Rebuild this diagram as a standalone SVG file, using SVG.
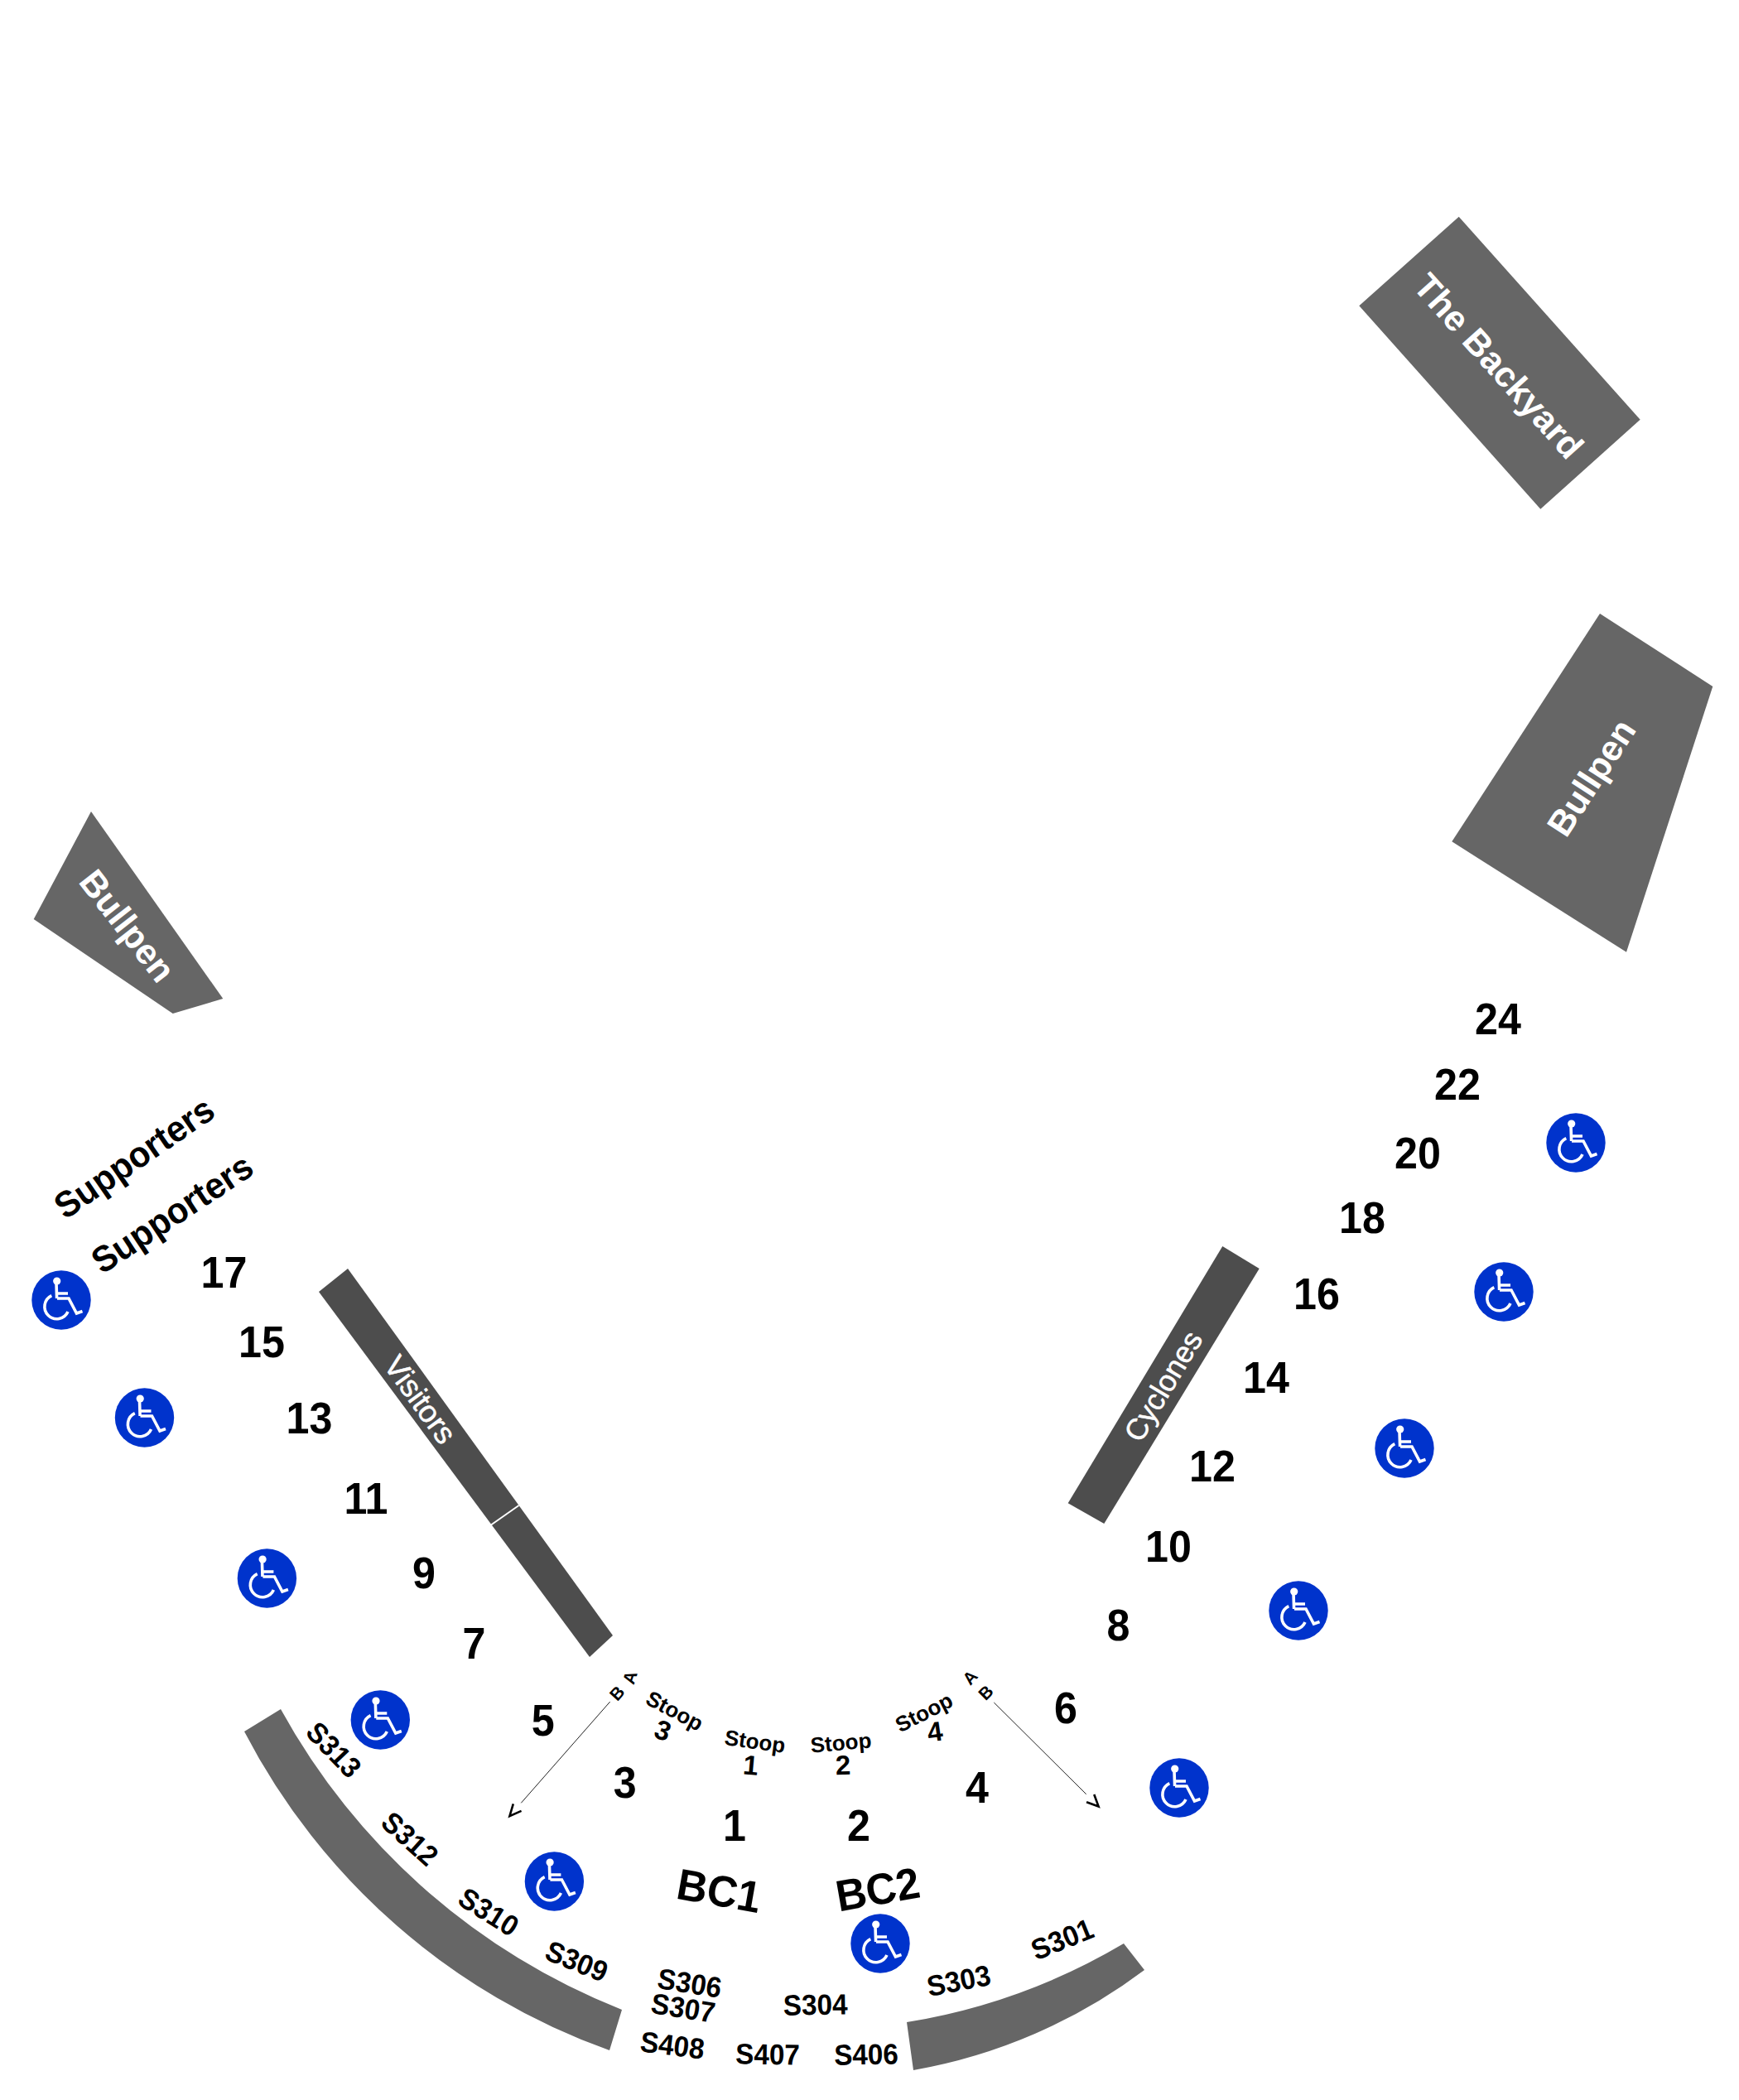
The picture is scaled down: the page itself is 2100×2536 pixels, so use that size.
<svg xmlns="http://www.w3.org/2000/svg" width="2100" height="2536" viewBox="0 0 2100 2536">
<style>
text{font-family:"Liberation Sans",Arial,sans-serif;text-anchor:middle}
.zone{fill:#666666}
.zone2{fill:#4d4d4d}
.w{fill:#fff;font-weight:700;font-size:43px}
.wr{fill:#fff;font-weight:400;font-size:37px;stroke:#fff;stroke-width:.5}
.n{font-weight:700;font-size:54px;fill:#000}
.s{font-weight:700;font-size:35px;fill:#000}
.bc{font-weight:700;font-size:53px;fill:#000}
.st{font-weight:700;font-size:26px;fill:#000}
.sd{font-weight:700;font-size:33px;fill:#000}
.ab{font-weight:700;font-size:21px;fill:#000}
.sup{font-weight:700;font-size:44px;fill:#000}
.ic{fill:none;stroke:#fff;stroke-width:3.6}
.conn{stroke:#222;stroke-width:1;fill:none}
</style>
<defs>
<marker id="chev" markerUnits="userSpaceOnUse" markerWidth="30" markerHeight="20" viewBox="0 -10 30 20" refX="0" refY="0" orient="auto">
<path d="M7,-6.5 L21,0 L7,6.5" fill="none" stroke="#000" stroke-width="2.6"/>
</marker>
<g id="wc">
<circle r="35.7" fill="#0033cc"/>
<circle cx="-5.3" cy="-23" r="4.6" fill="#fff"/>
<path class="ic" d="M-6,-21 L-5.4,-2 M-5,-8 H8 M-5,-2 H9 L18.5,16 L25.5,13.5"/>
<path class="ic" d="M-11.7,-5.3 A14.7 14.7 0 1 0 8,14"/>
</g>
</defs>
<rect width="2100" height="2536" fill="#fff"/>
<g id="connectors">
<line class="conn" x1="736.7" y1="2055" x2="629.3" y2="2177.3" marker-end="url(#chev)"/>
<line class="conn" x1="1200.3" y1="2056" x2="1311.7" y2="2166.7" marker-end="url(#chev)"/>
</g>
<g id="backyard"><polygon class="zone" points="1761.7,261.7 1980.7,506.7 1860.3,614.7 1641.3,369.3"/>
<text class="w" transform="translate(1810,442) rotate(48.2)" y="15">The Backyard</text></g>
<g id="bullpen-right"><polygon class="zone" points="1932,741 2068.3,829 1964,1149.7 1753.3,1016.3"/>
<text class="w" transform="translate(1921.5,939) rotate(-57)" y="15">Bullpen</text></g>
<g id="bullpen-left"><polygon class="zone" points="110,980 269.3,1206 208.7,1224 40.7,1110"/>
<text class="w" transform="translate(154,1118) rotate(52)" y="15">Bullpen</text></g>
<g id="visitors"><polygon class="zone2" points="420,1532 385,1560 712,2001 740,1975"/>
<line x1="626.5" y1="1818" x2="593" y2="1841.5" stroke="#fff" stroke-width="2"/>
<text class="wr" transform="translate(507.7,1690) rotate(54.2)" y="13">Visitors</text></g>
<g id="cyclones"><polygon class="zone2" points="1476.3,1505 1520.7,1532 1333.3,1840 1289.7,1815.3"/>
<text class="wr" transform="translate(1405,1674) rotate(-59)" y="12" style="font-size:36px">Cyclones</text></g>
<g id="arc-left"><path class="zone" d="M339,2064 A809 809 0 0 0 751,2427 L736,2476 A800 800 0 0 1 295,2091 Z"/></g>
<g id="arc-right"><path class="zone" d="M1095,2442 A750 750 0 0 0 1357,2347 L1382,2379 A650 650 0 0 1 1103,2500 Z"/></g>
<g id="supporters">
<text class="sup" transform="translate(162,1398) rotate(-34.5) scale(.95 1)" y="15">Supporters</text>
<text class="sup" transform="translate(208,1465.5) rotate(-33.5) scale(.95 1)" y="15">Supporters</text>
</g>
<g id="sections">
<text class="n" transform="translate(1809,1249) scale(.93 1)">24</text>
<text class="n" transform="translate(1760,1328) scale(.93 1)">22</text>
<text class="n" transform="translate(1712,1411) scale(.93 1)">20</text>
<text class="n" transform="translate(1645,1489) scale(.93 1)">18</text>
<text class="n" transform="translate(1590,1581) scale(.93 1)">16</text>
<text class="n" transform="translate(1529,1682) scale(.93 1)">14</text>
<text class="n" transform="translate(1464,1789) scale(.93 1)">12</text>
<text class="n" transform="translate(1411,1886) scale(.93 1)">10</text>
<text class="n" transform="translate(1350.5,1981) scale(.93 1)">8</text>
<text class="n" transform="translate(1287,2080.5) scale(.93 1)">6</text>
<text class="n" transform="translate(1180,2177) scale(.93 1)">4</text>
<text class="n" transform="translate(1037,2223) scale(.93 1)">2</text>
<text class="n" transform="translate(887,2223) scale(.93 1)">1</text>
<text class="n" transform="translate(754.6,2171) scale(.93 1)">3</text>
<text class="n" transform="translate(655.6,2096) scale(.93 1)">5</text>
<text class="n" transform="translate(572.4,2002.6) scale(.93 1)">7</text>
<text class="n" transform="translate(512,1918) scale(.93 1)">9</text>
<text class="n" transform="translate(442,1828) scale(.93 1)">11</text>
<text class="n" transform="translate(373.5,1731) scale(.93 1)">13</text>
<text class="n" transform="translate(316,1639) scale(.93 1)">15</text>
<text class="n" transform="translate(270.4,1555) scale(.93 1)">17</text>
</g>
<g id="suites">
<text class="s" transform="translate(403,2113) rotate(46) scale(.95 1)" y="12">S313</text>
<text class="s" transform="translate(495,2220.5) rotate(42) scale(.95 1)" y="12">S312</text>
<text class="s" transform="translate(590,2309) rotate(32) scale(.95 1)" y="12">S310</text>
<text class="s" transform="translate(696.4,2368.6) rotate(22) scale(.95 1)" y="12">S309</text>
<text class="s" transform="translate(832.7,2395) rotate(9) scale(.95 1)" y="12">S306</text>
<text class="s" transform="translate(825,2425) rotate(9) scale(.95 1)" y="12">S307</text>
<text class="s" transform="translate(812,2470) rotate(7) scale(.95 1)" y="12">S408</text>
<text class="s" transform="translate(927,2481) rotate(1) scale(.95 1)" y="12">S407</text>
<text class="s" transform="translate(1046,2481) rotate(-1) scale(.95 1)" y="12">S406</text>
<text class="s" transform="translate(984.7,2421) rotate(-1) scale(.95 1)" y="12">S304</text>
<text class="s" transform="translate(1157.7,2392) rotate(-11) scale(.95 1)" y="12">S303</text>
<text class="s" transform="translate(1282.7,2342) rotate(-22) scale(.95 1)" y="12">S301</text>
<text class="bc" transform="translate(868.5,2282.5) rotate(10) scale(.96 1)" y="19">BC1</text>
<text class="bc" transform="translate(1059.7,2281) rotate(-10) scale(.96 1)" y="19">BC2</text>
</g>
<g id="stoops">
<text class="st" transform="translate(814.8,2066) rotate(28)" y="9">Stoop</text>
<text class="sd" transform="translate(800.5,2090) rotate(20)" y="11">3</text>
<text class="st" transform="translate(911.7,2103) rotate(8)" y="9">Stoop</text>
<text class="sd" transform="translate(906.6,2132) rotate(5)" y="11">1</text>
<text class="st" transform="translate(1015.5,2104.5) rotate(-5)" y="9">Stoop</text>
<text class="sd" transform="translate(1018,2132) rotate(-2)" y="11">2</text>
<text class="st" transform="translate(1115.8,2068) rotate(-27)" y="9">Stoop</text>
<text class="sd" transform="translate(1129,2091.5) rotate(-8)" y="11">4</text>
</g>
<g id="aisle-labels">
<text class="ab" transform="translate(761,2026) rotate(-72)" y="7">A</text>
<text class="ab" transform="translate(745.3,2045) rotate(-48)" y="7">B</text>
<text class="ab" transform="translate(1171.7,2026) rotate(-48)" y="7">A</text>
<text class="ab" transform="translate(1190.7,2044.3) rotate(-45)" y="7">B</text>
</g>
<g id="accessible">
<use href="#wc" x="74" y="1570"/>
<use href="#wc" x="174.5" y="1712"/>
<use href="#wc" x="322.4" y="1906"/>
<use href="#wc" x="459.3" y="2077"/>
<use href="#wc" x="669.4" y="2272"/>
<use href="#wc" x="1063" y="2347"/>
<use href="#wc" x="1424" y="2159"/>
<use href="#wc" x="1568" y="1945"/>
<use href="#wc" x="1696" y="1749"/>
<use href="#wc" x="1816" y="1560"/>
<use href="#wc" x="1903" y="1380"/>
</g>
</svg>
